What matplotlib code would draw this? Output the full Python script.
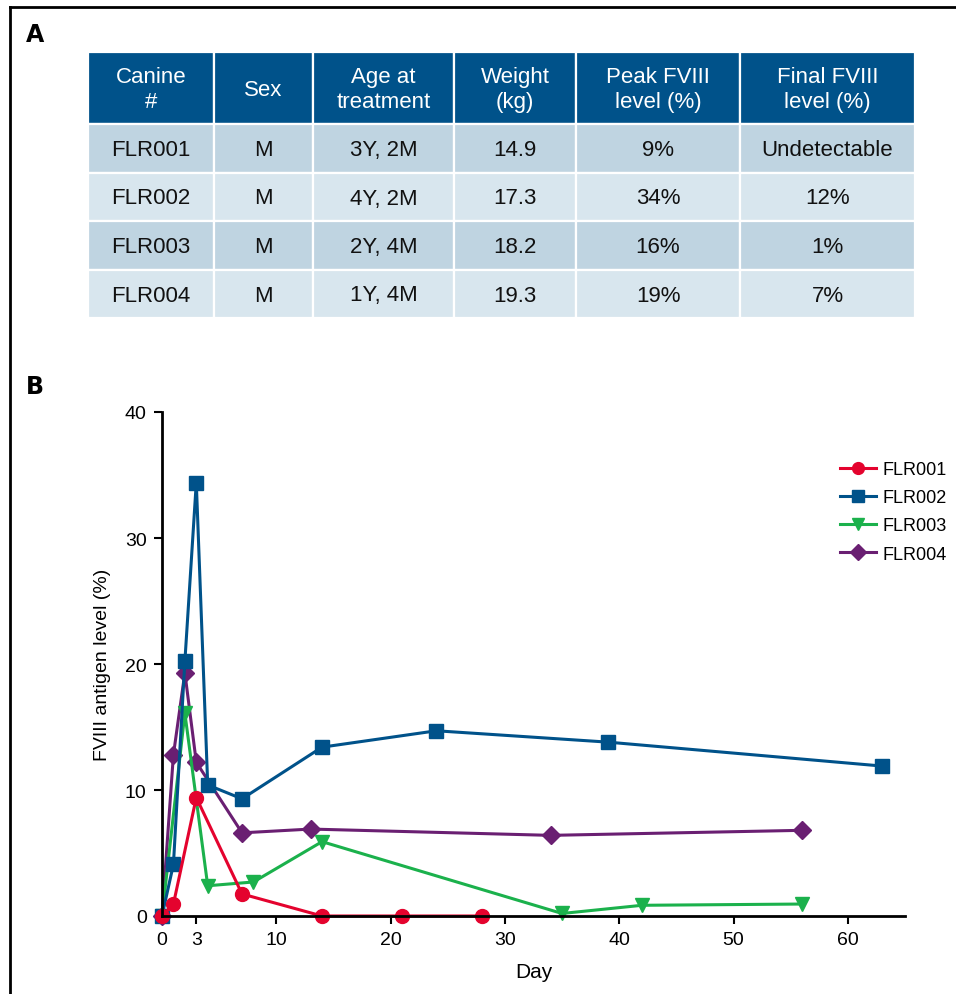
import matplotlib
matplotlib.use("Agg")
import matplotlib.pyplot as plt
from matplotlib import font_manager
from matplotlib.patches import Rectangle
from matplotlib.lines import Line2D

names = {f.name for f in font_manager.fontManager.ttflist}
narrow = 'Liberation Sans Narrow' if 'Liberation Sans Narrow' in names else 'Liberation Sans'
plt.rcParams['font.family'] = ['Liberation Sans', 'DejaVu Sans']

# table data
headers = ["Canine\n#", "Sex", "Age at\ntreatment", "Weight\n(kg)", "Peak FVIII\nlevel (%)", "Final FVIII\nlevel (%)"]
canines = ["FLR001", "FLR002", "FLR003", "FLR004"]
sex = ["M", "M", "M", "M"]
age = ["3Y, 2M", "4Y, 2M", "2Y, 4M", "1Y, 4M"]
weight = ["14.9", "17.3", "18.2", "19.3"]
peak = ["9%", "34%", "16%", "19%"]
final = ["Undetectable", "12%", "1%", "7%"]

# time course data
day1 = [0, 1, 3, 7, 14, 21, 28]
flr001 = [0, 0.95, 9.4, 1.75, 0, 0, 0]
day2 = [0, 1, 2, 3, 4, 7, 14, 24, 39, 63]
flr002 = [0, 4.1, 20.2, 34.4, 10.4, 9.3, 13.4, 14.7, 13.8, 11.9]
day3 = [0, 2, 4, 8, 14, 35, 42, 56]
flr003 = [0, 16.1, 2.4, 2.7, 5.9, 0.2, 0.85, 0.95]
day4 = [0, 1, 2, 3, 7, 13, 34, 56]
flr004 = [0, 12.8, 19.3, 12.2, 6.6, 6.9, 6.4, 6.8]

W, H = 956, 995
fig = plt.figure(figsize=(W / 100, H / 100), dpi=100)

# frame lines (top and left)
fig.add_artist(Line2D([10 / W, 1], [1 - 8 / H, 1 - 8 / H], color='black', lw=2, transform=fig.transFigure))
fig.add_artist(Line2D([10 / W, 10 / W], [0, 1 - 8 / H], color='black', lw=2, transform=fig.transFigure))

fig.text(26 / W, 1 - 35 / H, "A", fontsize=17, fontweight='bold', va='center', family='DejaVu Sans')
fig.text(26 / W, 1 - 387 / H, "B", fontsize=17, fontweight='bold', va='center', family='DejaVu Sans')

# ---- panel A: table
col_edges = [88, 214, 313, 454, 576, 740, 915]
row_edges = [53, 125, 174, 222, 271, 319]
tx = fig.add_axes([88 / W, 1 - 319 / H, (915 - 88) / W, (319 - 53) / H])
tx.set_xlim(88, 915)
tx.set_ylim(319, 53)
tx.axis('off')

header_col = '#00528A'
row_cols = ['#BFD4E1', '#D8E6EE']
columns = [canines, sex, age, weight, peak, final]
for j in range(6):
    x0, x1 = col_edges[j], col_edges[j + 1]
    tx.add_patch(Rectangle((x0, row_edges[0]), x1 - x0, row_edges[1] - row_edges[0],
                           facecolor=header_col, edgecolor='white', lw=1.6))
    tx.text((x0 + x1) / 2, (row_edges[0] + row_edges[1]) / 2 + 1, headers[j], color='white',
            fontsize=16, ha='center', va='center', linespacing=1.25)
    for i in range(4):
        y0, y1 = row_edges[i + 1], row_edges[i + 2]
        tx.add_patch(Rectangle((x0, y0), x1 - x0, y1 - y0, facecolor=row_cols[i % 2],
                               edgecolor='white', lw=1.6))
        tx.text((x0 + x1) / 2, (y0 + y1) / 2 + 1, columns[j][i], color='#111111',
                fontsize=16, ha='center', va='center')

# ---- panel B: line chart
ax = fig.add_axes([162 / W, 1 - 917 / H, (905 - 162) / W, (917 - 413) / H])
series = [
    (day4, flr004, '#6A1F72', 'D', 9.5, 'FLR004'),
    (day3, flr003, '#1BB14C', 'v', 10.5, 'FLR003'),
    (day2, flr002, '#00528A', 's', 10, 'FLR002'),
    (day1, flr001, '#E4032E', 'o', 10, 'FLR001'),
]
handles = {}
for d, v, c, m, ms, lab in series:
    h, = ax.plot(d, v, color=c, marker=m, markersize=ms, lw=2.2, label=lab, clip_on=False)
    handles[lab] = h

order = ['FLR001', 'FLR002', 'FLR003', 'FLR004']
ax.legend([handles[k] for k in order], order, loc='upper left', bbox_to_anchor=(0.89, 0.935),
          frameon=False, fontsize=13, handlelength=2.0, labelspacing=0.62, handletextpad=0.4,
          markerscale=0.85)

ax.set_xlim(0, 65)
ax.set_ylim(0, 40)
ax.set_xticks([0, 3, 10, 20, 30, 40, 50, 60])
ax.set_yticks([0, 10, 20, 30, 40])
for s in ['top', 'right']:
    ax.spines[s].set_visible(False)
for s in ['left', 'bottom']:
    ax.spines[s].set_linewidth(2)
ax.tick_params(direction='out', length=6, width=1.5, pad=5)
for t in ax.get_yticklabels():
    t.set_fontsize(14)
for t in ax.get_xticklabels():
    t.set_fontsize(14)
    t.set_family(narrow)
ax.set_xlabel("Day", fontsize=15, family=narrow, labelpad=10)
ax.set_ylabel("FVIII antigen level (%)", fontsize=14, family=narrow, labelpad=10)

fig.savefig("out.png", dpi=100)
